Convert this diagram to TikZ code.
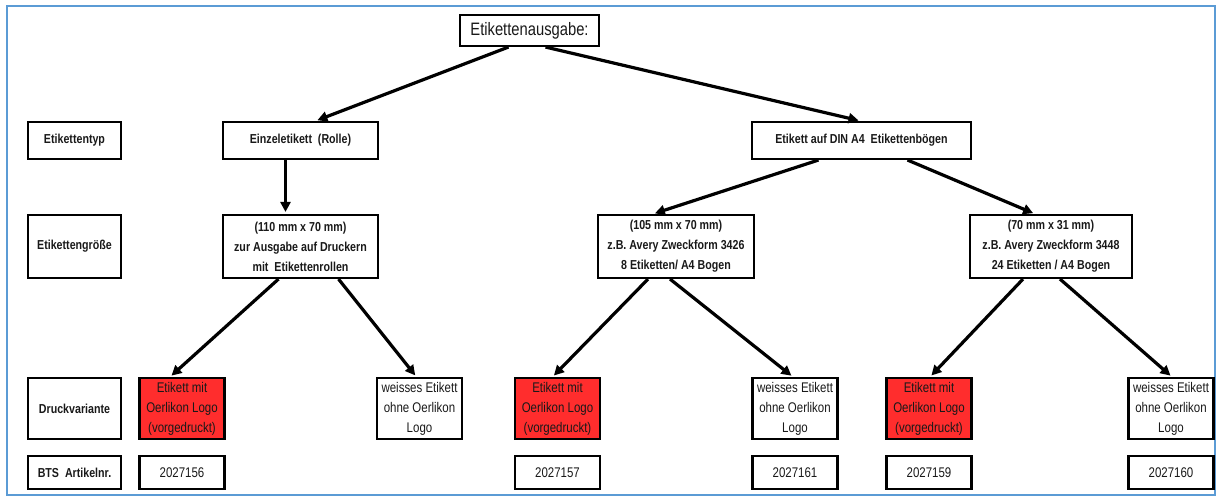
\documentclass[tikz,border=0pt]{standalone}
\usepackage{fontspec}
\setmainfont{Liberation Sans}[FakeStretch=0.82]
\usetikzlibrary{arrows.meta}
\definecolor{logored}{RGB}{255,45,45}
\definecolor{frameblue}{RGB}{91,155,213}
\begin{document}
\begin{tikzpicture}
  [x=1pt,y=-1pt,every node/.style={draw,line width=2.1pt,inner sep=0pt,align=center,text=black!90,
     font=\bfseries\fontsize{13}{20}\selectfont},
   head/.style={minimum width=93pt},
   druckbox/.style={minimum width=85pt,minimum height=61pt,font=\fontsize{14}{20}\selectfont},
   nrbox/.style={minimum width=85pt,minimum height=33pt,font=\fontsize{14}{20}\selectfont},
   arr/.style={line width=3.2pt,-{Triangle[length=10pt,width=10pt]},shorten >=2pt}]
\useasboundingbox (0,0) rectangle (1218,497);
\draw[frameblue,line width=2pt] (7,6) rectangle (1215,495);

\node (top)[minimum width=139pt,minimum height=31pt,font=\fontsize{18}{20}\selectfont] at (529.5,30.5) {Etikettenausgabe:};

% Zeilenkoepfe
\node (typ)[head,minimum height=37pt] at (74.5,140.5) {Etikettentyp};
\node (groesse)[head,minimum height=63pt] at (74.5,246.5) {Etikettengröße};
\node (druck)[head,minimum height=61pt] at (74.5,408.5) {Druckvariante};
\node (bts)[head,minimum height=33pt] at (74.5,472.5) {BTS\ \ Artikelnr.};

\node (roll)[minimum width=155pt,minimum height=37pt] at (300.5,140.5) {Einzeletikett\ \ (Rolle)};
\node (bogen)[minimum width=219pt,minimum height=37pt] at (861.5,140.5) {Etikett auf DIN A4\ \ Etikettenbögen};

\node (s110)[minimum width=155pt,minimum height=63pt] at (300.5,246.5) {(110 mm x 70 mm)\\zur Ausgabe auf Druckern\\mit\ \ Etikettenrollen};
\node (s105)[minimum width=156pt,minimum height=63pt] at (676,246.5) {(105 mm x 70 mm)\\z.B. Avery Zweckform 3426\\8 Etiketten/ A4 Bogen};
\node (s70)[minimum width=162pt,minimum height=63pt] at (1051,246.5) {(70 mm x 31 mm)\\z.B. Avery Zweckform 3448\\24 Etiketten / A4 Bogen};

\node (red1)[druckbox,fill=logored] at (182,408.5) {Etikett mit\\Oerlikon Logo\\(vorgedruckt)};
\node (white1)[druckbox] at (419.5,408.5) {weisses Etikett\\ohne Oerlikon\\Logo};
\node (red2)[druckbox,fill=logored] at (557.5,408.5) {Etikett mit\\Oerlikon Logo\\(vorgedruckt)};
\node (white2)[druckbox] at (795,408.5) {weisses Etikett\\ohne Oerlikon\\Logo};
\node (red3)[druckbox,fill=logored] at (929,408.5) {Etikett mit\\Oerlikon Logo\\(vorgedruckt)};
\node (white3)[druckbox] at (1171,408.5) {weisses Etikett\\ohne Oerlikon\\Logo};

\node (nr1)[nrbox] at (182,472.5) {2027156};
\node (nr2)[nrbox] at (557.5,472.5) {2027157};
\node (nr3)[nrbox] at (795,472.5) {2027161};
\node (nr4)[nrbox] at (929,472.5) {2027159};
\node (nr5)[nrbox] at (1171,472.5) {2027160};

 \foreach \from/\fx/\to/\tx in {top/-21/roll/15,top/16/bogen/-1,roll/-15/s110/-15,
    bogen/-43/s105/-23,bogen/46/s70/-16,s110/-22/red1/-12,s110/38/white1/-3,
    s105/-28/red2/-5,s105/-6/white2/-2,s70/-28/red3/1,s70/9/white3/1}
    \draw[arr] ([xshift=\fx pt]\from.south) -- ([xshift=\tx pt]\to.north);
\end{tikzpicture}
\end{document}
